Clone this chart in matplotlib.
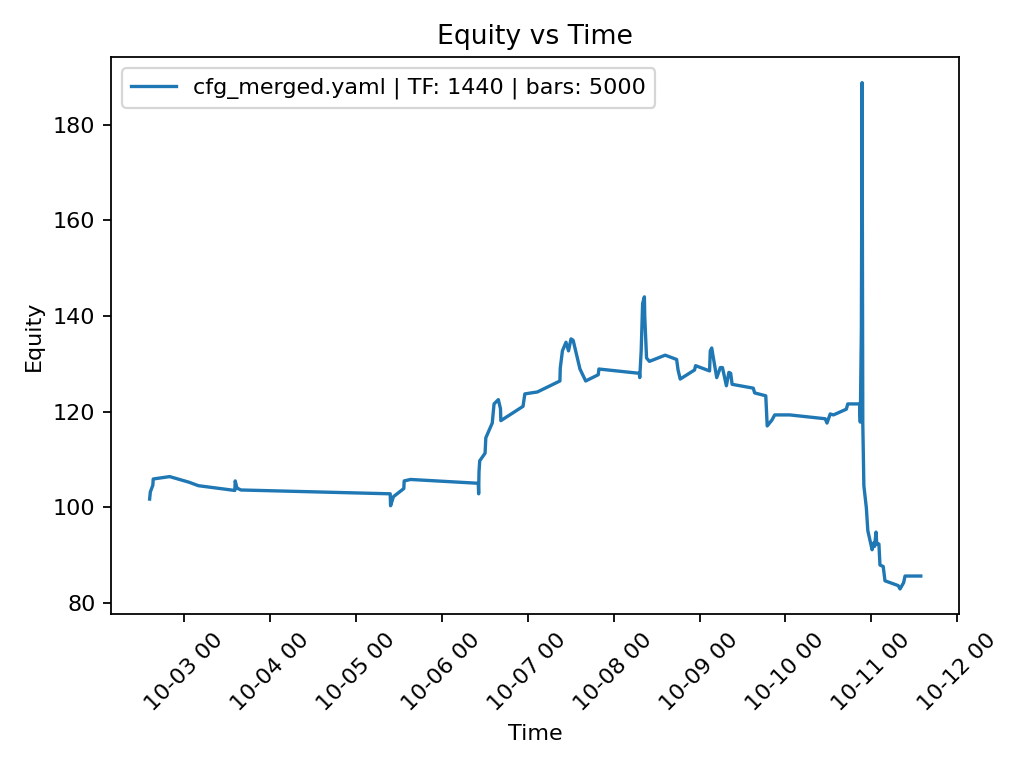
import numpy as np
import pandas as pd
import matplotlib
matplotlib.use('Agg')
import matplotlib.pyplot as plt
import matplotlib.dates as mdates

# hours since 2023-10-03 00:00 for each equity sample
hours = [-9.6, -9.4, -8.7, -8.6, -4.0, 1.5, 4.0, 14.2, 14.3, 14.8, 15.9,
         57.6, 57.7, 58.5, 61.4, 61.5, 63.3, 82.2, 82.3, 82.4, 82.6,
         84.1, 84.3, 86.1, 86.6, 87.8, 88.4, 88.5, 94.7, 95.2, 98.7,
         105.0, 105.1, 105.7, 106.7, 107.4, 108.1, 108.7, 110.6, 112.2,
         115.7, 115.9, 127.2, 127.3, 127.7, 128.1, 128.6, 128.7, 129.2,
         130.0, 134.4, 137.6, 138.0, 138.6, 142.6, 142.9, 146.8, 147.0,
         147.4, 148.8, 149.8, 150.4, 151.5, 152.2, 152.7, 153.1, 159.0,
         159.4, 162.5, 162.9, 164.2, 165.0, 169.2, 179.1, 179.6, 180.5,
         181.4, 185.0, 185.4, 188.7, 188.9, 189.2, 189.4, 189.6, 189.9,
         190.6, 191.0, 192.2, 192.6, 192.9, 193.3, 193.5, 194.1, 194.4,
         195.3, 195.8, 199.5, 200.0, 201.0, 201.4, 205.8]

equity = [101.7, 103.2, 104.6, 105.9, 106.4, 105.2, 104.5, 103.5, 105.5, 104.0, 103.6,
          102.8, 100.3, 102.2, 103.9, 105.5, 105.8, 105.0, 102.8, 107.4, 109.7,
          111.3, 114.5, 117.6, 121.6, 122.5, 120.6, 118.1, 121.1, 123.7, 124.1,
          126.4, 129.1, 132.7, 134.5, 132.7, 135.2, 134.9, 128.9, 126.4,
          127.7, 128.9, 128.0, 127.1, 132.7, 142.6, 144.0, 139.8, 131.2,
          130.5, 131.8, 130.9, 128.7, 126.8, 128.7, 129.6, 128.5, 132.7,
          133.3, 127.1, 129.2, 129.2, 125.4, 128.2, 128.0, 125.7, 124.9,
          123.9, 123.3, 117.0, 118.2, 119.3, 119.3, 118.5, 117.6, 119.5,
          119.3, 120.5, 121.6, 121.6, 117.8, 137.0, 188.8, 117.6, 104.5,
          99.8, 95.1, 91.1, 92.5, 91.8, 94.8, 92.3, 92.3, 87.9,
          87.6, 84.6, 83.6, 82.9, 84.2, 85.6, 85.6]

times = pd.Timestamp('2023-10-03') + pd.to_timedelta(hours, unit='h')

fig, ax = plt.subplots(figsize=(6.4, 4.8), dpi=160)
ax.plot(times, equity, label='cfg_merged.yaml | TF: 1440 | bars: 5000')
ax.xaxis.set_major_locator(mdates.DayLocator())
ax.xaxis.set_major_formatter(mdates.DateFormatter('%m-%d %H'))
plt.xticks(rotation=45)
ax.set_title('Equity vs Time')
ax.set_xlabel('Time')
ax.set_ylabel('Equity')
ax.legend(loc='upper left')
fig.tight_layout()
fig.savefig('out.png')
